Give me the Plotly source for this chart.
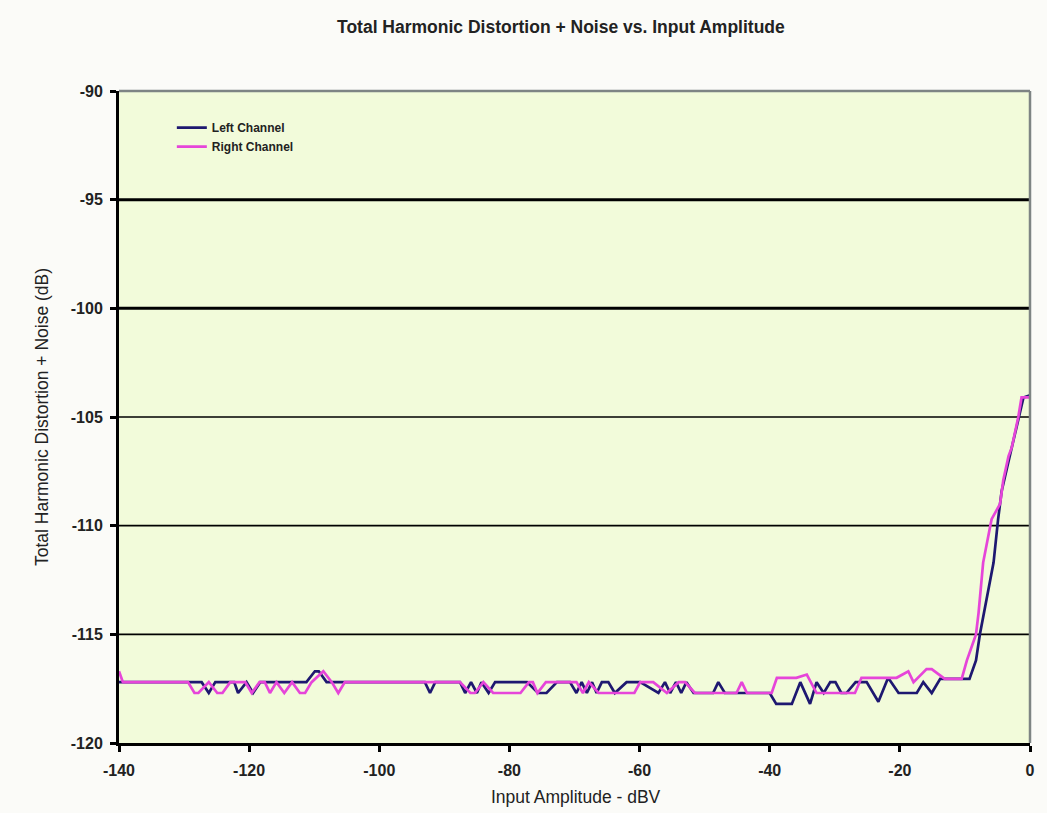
import plotly.graph_objects as go

# ---- data (dBV input, dB THD+N) ----
left_x = [-140, -129.4, -127.3, -126.2, -125.2, -122.3, -121.7, -120.4, -119.4, -118.3,
          -111.2, -109.9, -109.3, -108.1, -93.0, -92.2, -91.4, -87.6, -86.8, -85.9,
          -85.0, -84.3, -83.2, -82.2, -77.3, -75.6, -74.3, -72.7, -70.7, -69.7,
          -68.9, -68.1, -67.3, -66.6, -65.8, -64.8, -63.8, -62.0, -59.9, -57.1,
          -56.1, -55.3, -54.4, -53.6, -52.8, -51.7, -48.7, -47.9, -46.9, -40.0,
          -39.0, -36.6, -35.3, -33.8, -32.8, -31.7, -30.7, -29.9, -29.0, -28.2,
          -26.8, -25.1, -23.3, -21.8, -20.2, -17.4, -16.4, -15.1, -13.8, -9.3,
          -8.3, -7.7, -6.6, -5.6, -4.9, -4.35, -3.5, -2.5, -1.5, -1.0, 0]
left_y = [-117.2, -117.2, -117.2, -117.7, -117.2, -117.2, -117.7, -117.2, -117.7, -117.2,
          -117.2, -116.7, -116.7, -117.2, -117.2, -117.7, -117.2, -117.2, -117.7, -117.2,
          -117.7, -117.2, -117.7, -117.2, -117.2, -117.7, -117.7, -117.2, -117.2, -117.7,
          -117.2, -117.7, -117.2, -117.7, -117.2, -117.2, -117.7, -117.2, -117.2, -117.7,
          -117.2, -117.7, -117.2, -117.7, -117.2, -117.7, -117.7, -117.2, -117.7, -117.7,
          -118.2, -118.2, -117.2, -118.2, -117.2, -117.7, -117.2, -117.2, -117.7, -117.7,
          -117.2, -117.2, -118.1, -117.0, -117.7, -117.7, -117.2, -117.7, -117.05, -117.05,
          -116.2, -115.0, -113.3, -111.7, -109.7, -108.4, -107.3, -106.0, -104.6, -104.1, -104.0]

right_x = [-140, -139.4, -129.4, -128.4, -127.8, -126.2, -124.9, -124.1, -122.9, -120.6,
           -119.6, -118.4, -117.6, -116.8, -115.8, -114.6, -113.4, -112.2, -111.4, -110.4,
           -108.6, -107.3, -106.3, -105.3, -87.6, -86.0, -85.3, -84.0, -82.5, -78.3,
           -77.0, -76.4, -75.7, -74.4, -69.7, -68.7, -67.8, -66.3, -60.8, -59.9,
           -57.9, -55.8, -54.0, -53.0, -51.5, -45.1, -44.3, -43.5, -39.7, -38.9,
           -35.9, -34.3, -32.8, -30.7, -26.9, -25.9, -20.5, -18.7, -17.9, -15.9,
           -15.1, -13.1, -10.5, -9.7, -8.3, -7.9, -7.2, -6.1, -5.9, -4.6,
           -4.1, -3.3, -2.8, -1.8, -1.3, 0]
right_y = [-116.7, -117.2, -117.2, -117.7, -117.7, -117.2, -117.7, -117.7, -117.2, -117.2,
           -117.7, -117.2, -117.2, -117.7, -117.2, -117.7, -117.2, -117.7, -117.7, -117.2,
           -116.7, -117.2, -117.7, -117.2, -117.2, -117.7, -117.7, -117.2, -117.7, -117.7,
           -117.2, -117.2, -117.7, -117.2, -117.2, -117.7, -117.2, -117.7, -117.7, -117.2,
           -117.2, -117.7, -117.2, -117.2, -117.7, -117.7, -117.2, -117.7, -117.7, -117.0,
           -117.0, -116.85, -117.7, -117.7, -117.7, -117.0, -117.0, -116.7, -117.2, -116.6,
           -116.6, -117.05, -117.05, -116.2, -115.0, -114.0, -111.7, -110.0, -109.7, -109.0,
           -107.9, -106.8, -106.4, -105.0, -104.1, -104.1]

x_ticks = [-140, -120, -100, -80, -60, -40, -20, 0]
y_ticks = [-90, -95, -100, -105, -110, -115, -120]
major_grid = [-95, -100]
minor_grid = [-105, -110, -115]

TITLE = "Total Harmonic Distortion + Noise vs. Input Amplitude"
X_TITLE = "Input Amplitude - dBV"
Y_TITLE = "Total Harmonic Distortion + Noise (dB)"

FONT = "Liberation Sans, Arial, sans-serif"

fig = go.Figure()
fig.add_trace(go.Scatter(x=left_x, y=left_y, mode="lines", name="Left Channel",
                         line=dict(color="#1e1870", width=2.7)))
fig.add_trace(go.Scatter(x=right_x, y=right_y, mode="lines", name="Right Channel",
                         line=dict(color="#e645d9", width=2.7)))

shapes = []
for g in major_grid:
    shapes.append(dict(type="line", xref="paper", x0=0, x1=1, yref="y", y0=g, y1=g,
                       line=dict(color="black", width=3), layer="below"))
for g in minor_grid:
    shapes.append(dict(type="line", xref="paper", x0=0, x1=1, yref="y", y0=g, y1=g,
                       line=dict(color="black", width=1.6), layer="below"))
# gray top / right frame
shapes.append(dict(type="line", xref="paper", yref="paper", x0=0, x1=1, y0=1, y1=1,
                   line=dict(color="#7e8484", width=2.5)))
shapes.append(dict(type="line", xref="paper", yref="paper", x0=1, x1=1, y0=0, y1=1,
                   line=dict(color="#7e8484", width=2.5)))

fig.update_layout(
    width=1047, height=813,
    margin=dict(l=119, r=17, t=91, b=70),
    paper_bgcolor="#fbfbf8",
    plot_bgcolor="#f2fbda",
    font=dict(family=FONT, color="#222222"),
    shapes=shapes,
    showlegend=True,
    legend=dict(x=0.058, y=0.966, xanchor="left", yanchor="top",
                bgcolor="rgba(0,0,0,0)", font=dict(size=12, family=FONT, weight="bold"),
                itemwidth=30, tracegroupgap=4),
    annotations=[
        dict(text="<b>" + TITLE + "</b>", xref="paper", yref="paper", x=0.485, y=1.098,
             xanchor="center", yanchor="middle", showarrow=False, font=dict(size=17.5)),
        dict(text=X_TITLE, xref="paper", yref="paper", x=0.502, y=-0.083,
             xanchor="center", yanchor="middle", showarrow=False,
             font=dict(size=17.5)),
        dict(text=Y_TITLE, xref="paper", yref="paper", x=-0.0845, y=0.5, textangle=-90,
             xanchor="center", yanchor="middle", showarrow=False, font=dict(size=17.5)),
    ],
)
fig.update_xaxes(range=[-140, 0], tickvals=x_ticks, ticktext=[str(v) for v in x_ticks],
                 showgrid=False, zeroline=False, showline=True, linecolor="black", linewidth=3,
                 ticks="outside", ticklen=6, tickwidth=3, tickcolor="black",
                 ticklabelstandoff=5,
                 tickfont=dict(size=16, weight="bold"), fixedrange=True)
fig.update_yaxes(range=[-120, -90], tickvals=y_ticks, ticktext=[str(v) for v in y_ticks],
                 showgrid=False, zeroline=False, showline=True, linecolor="black", linewidth=3,
                 ticks="outside", ticklen=6, tickwidth=3, tickcolor="black",
                 ticklabelstandoff=4,
                 tickfont=dict(size=16, weight="bold"), fixedrange=True)

fig.write_html("out.html")
